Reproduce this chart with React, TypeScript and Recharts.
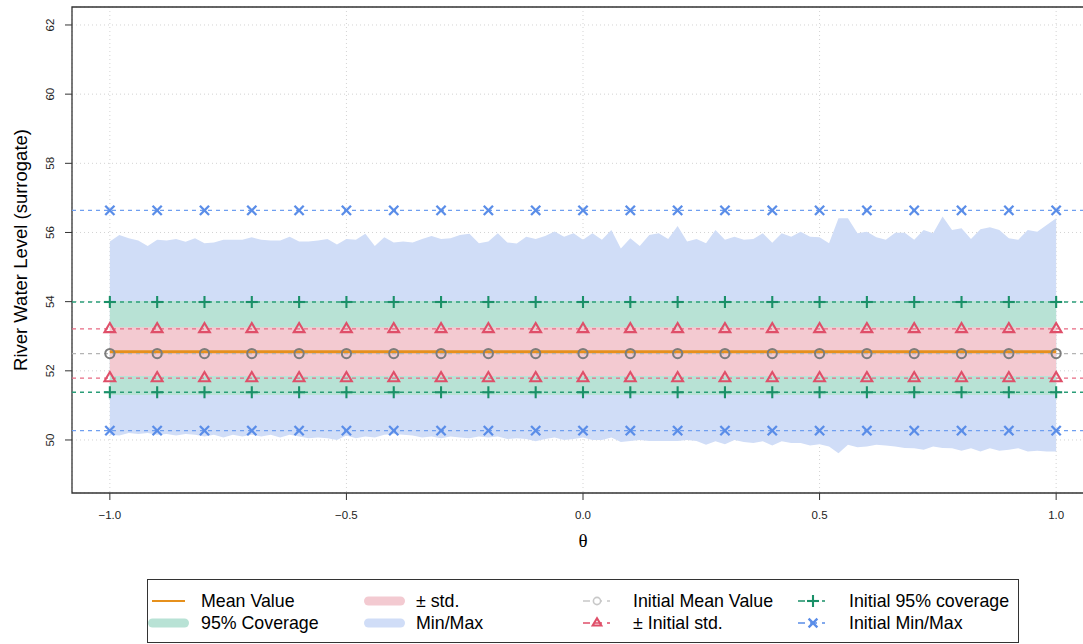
import {
  ComposedChart, Area, Line, Scatter, XAxis, YAxis, CartesianGrid, ReferenceLine, ReferenceArea,
} from "recharts";

// theta grid used for the simulated bands
const thetaGrid = [
  -1.0, -0.98, -0.96, -0.94, -0.92, -0.9, -0.88, -0.86, -0.84, -0.82,
  -0.8, -0.78, -0.76, -0.74, -0.72, -0.7, -0.68, -0.66, -0.64, -0.62,
  -0.6, -0.58, -0.56, -0.54, -0.52, -0.5, -0.48, -0.46, -0.44, -0.42,
  -0.4, -0.38, -0.36, -0.34, -0.32, -0.3, -0.28, -0.26, -0.24, -0.22,
  -0.2, -0.18, -0.16, -0.14, -0.12, -0.1, -0.08, -0.06, -0.04, -0.02,
  0.0, 0.02, 0.04, 0.06, 0.08, 0.1, 0.12, 0.14, 0.16, 0.18,
  0.2, 0.22, 0.24, 0.26, 0.28, 0.3, 0.32, 0.34, 0.36, 0.38,
  0.4, 0.42, 0.44, 0.46, 0.48, 0.5, 0.52, 0.54, 0.56, 0.58,
  0.6, 0.62, 0.64, 0.66, 0.68, 0.7, 0.72, 0.74, 0.76, 0.78,
  0.8, 0.82, 0.84, 0.86, 0.88, 0.9, 0.92, 0.94, 0.96, 0.98, 1.0,
];

const bandMax = [
  55.74, 55.93, 55.83, 55.77, 55.61, 55.79, 55.77, 55.81, 55.73, 55.83,
  55.69, 55.71, 55.79, 55.79, 55.79, 55.86, 55.79, 55.77, 55.77, 55.88,
  55.74, 55.74, 55.77, 55.81, 55.65, 55.81, 55.79, 55.96, 55.61, 55.86,
  55.71, 55.74, 55.71, 55.81, 55.9, 55.81, 55.83, 55.93, 55.96, 55.69,
  55.74, 55.98, 55.71, 55.68, 55.88, 55.81, 55.9, 56.03, 55.88, 55.98,
  55.79, 55.98, 55.79, 56.07, 55.54, 55.83, 55.61, 55.93, 55.98, 55.81,
  56.19, 55.74, 55.81, 55.69, 56.07, 55.79, 55.88, 55.79, 55.81, 55.98,
  55.7, 55.98, 55.88, 56.02, 55.88, 55.86, 55.69, 56.41, 56.41, 55.98,
  56.02, 55.86, 55.79, 55.99, 55.99, 55.79, 56.07, 55.98, 56.46, 56.07,
  56.12, 55.81, 56.09, 56.15, 56.07, 55.83, 55.79, 56.07, 56.02, 56.22, 56.41,
];

const bandMin = [
  50.15, 50.13, 50.2, 50.17, 50.2, 50.15, 50.17, 50.13, 50.17, 50.15,
  50.1, 50.15, 50.07, 50.15, 50.1, 50.15, 50.1, 50.15, 50.07, 50.15,
  50.1, 50.05, 50.07, 50.05, 50.0, 50.13, 50.05, 50.1, 50.07, 50.15,
  50.17, 50.15, 50.13, 50.07, 50.1, 50.05, 50.1, 50.07, 50.05, 50.1,
  50.07, 50.1, 50.03, 50.05, 50.03, 49.96, 50.03, 50.07, 50.0, 50.03,
  50.07, 50.0, 50.0, 50.07, 49.94, 49.97, 50.0, 49.97, 49.97, 49.97,
  49.97, 50.0, 49.97, 49.86, 49.96, 49.88, 50.0, 49.94, 49.91, 49.96,
  49.84, 49.96, 49.91, 49.91, 49.84, 49.88, 49.81, 49.62, 49.86, 49.79,
  49.81, 49.86, 49.84, 49.81, 49.77, 49.76, 49.72, 49.81, 49.77, 49.76,
  49.69, 49.76, 49.67, 49.76, 49.69, 49.72, 49.76, 49.67, 49.69, 49.67, 49.67,
];

const cov95 = [51.3, 54.02];
const stdBand = [51.85, 53.26];
const meanValue = 52.55;

// initial reference values (dashed lines + markers)
const markerTheta = [
  -1.0, -0.9, -0.8, -0.7, -0.6, -0.5, -0.4, -0.3, -0.2, -0.1, 0.0,
  0.1, 0.2, 0.3, 0.4, 0.5, 0.6, 0.7, 0.8, 0.9, 1.0,
];
const initMean = 52.5;
const initStd = [51.79, 53.21];
const init95 = [51.38, 53.99];
const initMinMax = [50.27, 56.64];

const xTicks = [-1, -0.5, 0, 0.5, 1];
const xTickLabels = ["\u22121.0", "\u22120.5", "0.0", "0.5", "1.0"];
const yTicks = [50, 52, 54, 56, 58, 60, 62];

const data = thetaGrid.map((t, i) => ({
  theta: t,
  minmax: [bandMin[i], bandMax[i]],
  cov: cov95,
  std: stdBand,
  mean: meanValue,
}));
const pts = (v: number) => markerTheta.map((t) => ({ theta: t, v }));

const FONT = "'Liberation Sans', Arial, Helvetica, sans-serif";
const ORANGE = "#e6901c";
const GREEN_BAND = "#b8e2d5";
const PINK_BAND = "#f3cad1";
const BLUE_BAND = "#d0ddf7";
const GREY_PT = "#7c7c7c";
const GREY_LN = "#b4b4b4";
const RED = "#df4f69";
const RED_LN = "#e86a82";
const GREEN = "#1a9068";
const GREEN_LN = "#2a9d78";
const BLUE = "#5a8de8";
const BLUE_LN = "#6f9ff0";

function Circ({ cx, cy, color = GREY_PT, r = 4.6 }: any) {
  return <circle cx={cx} cy={cy} r={r} fill="none" stroke={color} strokeWidth={2} />;
}
function Tri({ cx, cy, s = 1 }: any) {
  return (
    <path d={`M${cx},${cy - 6 * s} L${cx + 5.4 * s},${cy + 3.2 * s} L${cx - 5.4 * s},${cy + 3.2 * s} Z`}
      fill="none" stroke={RED} strokeWidth={2.1} />
  );
}
function Plus({ cx, cy, s = 1 }: any) {
  const h = 6 * s;
  return (
    <g stroke={GREEN} strokeWidth={2.1}>
      <line x1={cx - h} y1={cy} x2={cx + h} y2={cy} />
      <line x1={cx} y1={cy - h} x2={cx} y2={cy + h} />
    </g>
  );
}
function Cross({ cx, cy, s = 1 }: any) {
  const h = 4.6 * s;
  return (
    <g stroke={BLUE} strokeWidth={2.3}>
      <line x1={cx - h} y1={cy - h} x2={cx + h} y2={cy + h} />
      <line x1={cx - h} y1={cy + h} x2={cx + h} y2={cy - h} />
    </g>
  );
}

function LegendBox() {
  const t = { fontFamily: FONT, fontSize: 17.8, fill: "#000" };
  const r1 = 601, r2 = 623;
  const dashed = (x: number, y: number, c: string) => (
    <line x1={x} y1={y} x2={x + 27} y2={y} stroke={c} strokeWidth={1.5} strokeDasharray="7 5" />
  );
  return (
    <svg width={1083} height={644} style={{ position: "absolute", left: 0, top: 0, pointerEvents: "none" }}>
      <text x={27} y={250} transform="rotate(-90 27 250)" textAnchor="middle"
        style={{ fontFamily: FONT, fontSize: 18.5, fill: "#000" }}>River Water Level (surrogate)</text>
      <text x={583} y={547} textAnchor="middle"
        style={{ fontFamily: "'Liberation Serif', 'DejaVu Serif', serif", fontSize: 19, fill: "#000" }}>θ</text>

      <rect x={147.5} y={579.5} width={871} height={63} fill="#fff" stroke="#333" strokeWidth={1} />
      <line x1={152} y1={r1} x2={185} y2={r1} stroke={ORANGE} strokeWidth={2} />
      <text x={201} y={r1 + 6} style={t}>Mean Value</text>
      <line x1={152.5} y1={r2} x2={184.5} y2={r2} stroke={GREEN_BAND} strokeWidth={9} strokeLinecap="round" />
      <text x={201} y={r2 + 6} style={t}>95% Coverage</text>

      <line x1={368.5} y1={r1} x2={400.5} y2={r1} stroke={PINK_BAND} strokeWidth={9} strokeLinecap="round" />
      <text x={416} y={r1 + 6} style={t}>± std.</text>
      <line x1={368.5} y1={r2} x2={400.5} y2={r2} stroke={BLUE_BAND} strokeWidth={9} strokeLinecap="round" />
      <text x={416} y={r2 + 6} style={t}>Min/Max</text>

      {dashed(583, r1, "#c8c8c8")}
      <circle cx={597} cy={r1} r={3.6} fill="#fff" stroke="#c8c8c8" strokeWidth={1.6} />
      <text x={633} y={r1 + 6} style={t}>Initial Mean Value</text>
      {dashed(583, r2, RED)}
      <g transform={`translate(597 ${r2})`}><Tri cx={0} cy={0} s={0.8} /></g>
      <text x={633} y={r2 + 6} style={t}>± Initial std.</text>

      {dashed(798, r1, GREEN)}
      <Plus cx={813} cy={r1} s={1} />
      <text x={849} y={r1 + 6} style={t}>Initial 95% coverage</text>
      {dashed(798, r2, BLUE)}
      <Cross cx={813} cy={r2} s={0.95} />
      <text x={849} y={r2 + 6} style={t}>Initial Min/Max</text>
    </svg>
  );
}

const yMin = 48.467;
const yMax = 62.52;

export default function App() {
  return (
    <div style={{ position: "fixed", left: 0, top: 0, width: 1083, height: 644, overflow: "hidden", background: "#fff" }}>
      <div style={{ position: "absolute", left: 0, top: 0 }}>
        <ComposedChart width={1100} height={644} data={data} margin={{ top: 7, right: 6, bottom: 0, left: 0 }}>
          <CartesianGrid stroke="#d3d3d3" strokeDasharray="1 3" />
          <XAxis dataKey="theta" type="number" domain={[-1.08, 1.08]} ticks={xTicks} allowDataOverflow
            interval={0} height={151} tickSize={7} tickMargin={11} axisLine={false}
            tickLine={{ stroke: "#333" }}
            tick={(p: any) => (
              <text x={p.x} y={p.y + 8} textAnchor="middle" style={{ fontFamily: FONT, fontSize: 11.5, fill: "#222" }}>
                {xTickLabels[xTicks.indexOf(p.payload.value)]}
              </text>
            )} />
          <YAxis type="number" domain={[yMin, yMax]} ticks={yTicks} allowDataOverflow interval={0}
            width={72} tickSize={7} tickMargin={11} axisLine={false} tickLine={{ stroke: "#333" }}
            tick={(p: any) => (
              <text x={p.x} y={p.y} transform={`rotate(-90 ${p.x} ${p.y})`} textAnchor="middle"
                style={{ fontFamily: FONT, fontSize: 11.5, fill: "#222" }}>
                {p.payload.value}
              </text>
            )} />
          <Area type="linear" dataKey="minmax" stroke="none" fill={BLUE_BAND} fillOpacity={1}
            isAnimationActive={false} dot={false} activeDot={false} />
          <Area type="linear" dataKey="cov" stroke="none" fill={GREEN_BAND} fillOpacity={1}
            isAnimationActive={false} dot={false} activeDot={false} />
          <Area type="linear" dataKey="std" stroke="none" fill={PINK_BAND} fillOpacity={1}
            isAnimationActive={false} dot={false} activeDot={false} />
          <Line type="linear" dataKey="mean" stroke={ORANGE} strokeWidth={3} dot={false} activeDot={false}
            isAnimationActive={false} />

          <ReferenceLine y={initMinMax[1]} stroke={BLUE_LN} strokeWidth={1.3} strokeDasharray="4 4" />
          <ReferenceLine y={initMinMax[0]} stroke={BLUE_LN} strokeWidth={1.3} strokeDasharray="4 4" />
          <ReferenceLine y={init95[1]} stroke={GREEN_LN} strokeWidth={1.3} strokeDasharray="4 4" />
          <ReferenceLine y={init95[0]} stroke={GREEN_LN} strokeWidth={1.3} strokeDasharray="4 4" />
          <ReferenceLine y={initStd[1]} stroke={RED_LN} strokeWidth={1.3} strokeDasharray="4 4" />
          <ReferenceLine y={initStd[0]} stroke={RED_LN} strokeWidth={1.3} strokeDasharray="4 4" />
          <ReferenceLine y={initMean} stroke={GREY_LN} strokeWidth={1.3} strokeDasharray="4 4" />

          <Scatter data={pts(initMean)} dataKey="v" isAnimationActive={false}
            shape={(p: any) => <Circ cx={p.cx} cy={p.cy} />} />
          <Scatter data={pts(initStd[1])} dataKey="v" isAnimationActive={false}
            shape={(p: any) => <Tri cx={p.cx} cy={p.cy} />} />
          <Scatter data={pts(initStd[0])} dataKey="v" isAnimationActive={false}
            shape={(p: any) => <Tri cx={p.cx} cy={p.cy} />} />
          <Scatter data={pts(init95[1])} dataKey="v" isAnimationActive={false}
            shape={(p: any) => <Plus cx={p.cx} cy={p.cy} />} />
          <Scatter data={pts(init95[0])} dataKey="v" isAnimationActive={false}
            shape={(p: any) => <Plus cx={p.cx} cy={p.cy} />} />
          <Scatter data={pts(initMinMax[1])} dataKey="v" isAnimationActive={false}
            shape={(p: any) => <Cross cx={p.cx} cy={p.cy} />} />
          <Scatter data={pts(initMinMax[0])} dataKey="v" isAnimationActive={false}
            shape={(p: any) => <Cross cx={p.cx} cy={p.cy} />} />

          <ReferenceArea x1={-1.08} x2={1.08} y1={yMin} y2={yMax} fill="none" stroke="#333"
            strokeWidth={1.3} ifOverflow="visible" />
        </ComposedChart>
      </div>
      <LegendBox />
    </div>
  );
}
